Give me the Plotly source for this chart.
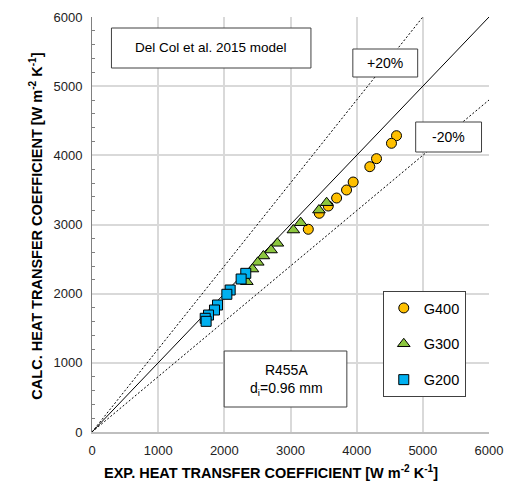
import plotly.graph_objects as go

# ---- data (W m-2 K-1) ----
g400_exp = [4602, 4526, 4300, 4199, 3947, 3847, 3697, 3571, 3435, 3269]
g400_calc = [4284, 4174, 3952, 3836, 3614, 3499, 3383, 3267, 3162, 2931]

g300_exp = [3546, 3430, 3154, 3043, 2802, 2706, 2590, 2505, 2425, 2340]
g300_calc = [3315, 3209, 3026, 2920, 2728, 2631, 2545, 2453, 2356, 2173]

g200_exp = [2324, 2254, 2088, 2038, 1897, 1851, 1761, 1711, 1725]
g200_calc = [2294, 2212, 2053, 1991, 1836, 1764, 1691, 1644, 1600]

ref_x = [0, 6000]
factors = {"exact": 1.0, "plus20": 1.2, "minus20": 0.8}

FONT = "Arial, Liberation Sans, sans-serif"

fig = go.Figure()

# reference lines
fig.add_trace(go.Scatter(x=ref_x, y=[v * factors["exact"] for v in ref_x], mode="lines",
                         line=dict(color="black", width=1), showlegend=False, hoverinfo="skip"))
fig.add_trace(go.Scatter(x=ref_x, y=[v * factors["plus20"] for v in ref_x], mode="lines",
                         line=dict(color="black", width=1, dash="2px,2px"), showlegend=False, hoverinfo="skip"))
fig.add_trace(go.Scatter(x=ref_x, y=[v * factors["minus20"] for v in ref_x], mode="lines",
                         line=dict(color="black", width=1, dash="2px,2px"), showlegend=False, hoverinfo="skip"))

fig.add_trace(go.Scatter(x=g400_exp, y=g400_calc, mode="markers", name="G400", legendgroup="a",
                         marker=dict(symbol="circle", size=10, color="#FFC000",
                                     line=dict(color="black", width=1))))
fig.add_trace(go.Scatter(x=g300_exp, y=g300_calc, mode="markers", name="G300", legendgroup="b",
                         marker=dict(symbol="triangle-up", size=11, color="#8CC63F",
                                     line=dict(color="black", width=1))))
fig.add_trace(go.Scatter(x=g200_exp, y=g200_calc, mode="markers", name="G200", legendgroup="c",
                         marker=dict(symbol="square", size=10, color="#00B0F0",
                                     line=dict(color="black", width=1))))

axis_common = dict(range=[0, 6000], dtick=1000, tick0=0, showgrid=True, gridcolor="#d9d9d9",
                   gridwidth=1.5, zeroline=False, ticks="", showline=True, automargin=False,
                   ticklabelstandoff=6,
                   tickfont=dict(family=FONT, size=13, color="#222"))

fig.update_xaxes(**axis_common, linecolor="#bfbfbf", linewidth=1.5)
fig.update_yaxes(**axis_common, linecolor="#808080", linewidth=1,
                 minor=dict(dtick=200, ticks="inside", ticklen=3, tickcolor="#808080", showgrid=False))

W, H = 398.0, 415.0
L, T = 91.5, 17.0
px = lambda p: (p - L) / W
py = lambda p: (T + H - p) / H


def box(x0, x1, y0, y1):
    fig.add_shape(type="rect", xref="paper", yref="paper", x0=px(x0), x1=px(x1), y0=py(y1), y1=py(y0),
                  line=dict(color="#404040", width=1), fillcolor="white", layer="above")


def label(x, y, text, size, bold=False, angle=0, anchor_y="middle"):
    fig.add_annotation(x=px(x), y=py(y), xref="paper", yref="paper", xanchor="center", yanchor=anchor_y,
                       text=f"<b>{text}</b>" if bold else text, textangle=angle, showarrow=False,
                       font=dict(family=FONT, size=size, color="black"))


box(111, 311, 28, 68)
label(211, 48, "Del Col et al. 2015 model", 13.5)
box(353, 418, 49, 77)
label(385.5, 63, "+20%", 14)
box(416, 482, 122, 152)
label(449, 137, "-20%", 14)
box(224, 347, 351, 407)
label(286, 380, "R455A<br>d<sub>i</sub>=0.96 mm", 14)
label(268, 2, "(R455A)", 14, anchor_y="bottom")

label(271, 472, "EXP. HEAT TRANSFER COEFFICIENT [W m<sup>-2</sup> K<sup>-1</sup>]", 14.5, bold=True)
label(35, 226, "CALC. HEAT TRANSFER COEFFICIENT [W m<sup>-2</sup> K<sup>-1</sup>]", 14.5, bold=True, angle=-90)

fig.update_layout(
    width=507, height=487,
    margin=dict(l=91.5, r=17.5, t=17, b=55),
    plot_bgcolor="white", paper_bgcolor="white",
    legend=dict(x=px(383), y=py(291), xanchor="left", yanchor="top",
                bordercolor="#404040", borderwidth=1, bgcolor="white",
                font=dict(family=FONT, size=14.5, color="black"), tracegroupgap=14,
                itemwidth=30),
)

fig.write_html("out.html")
